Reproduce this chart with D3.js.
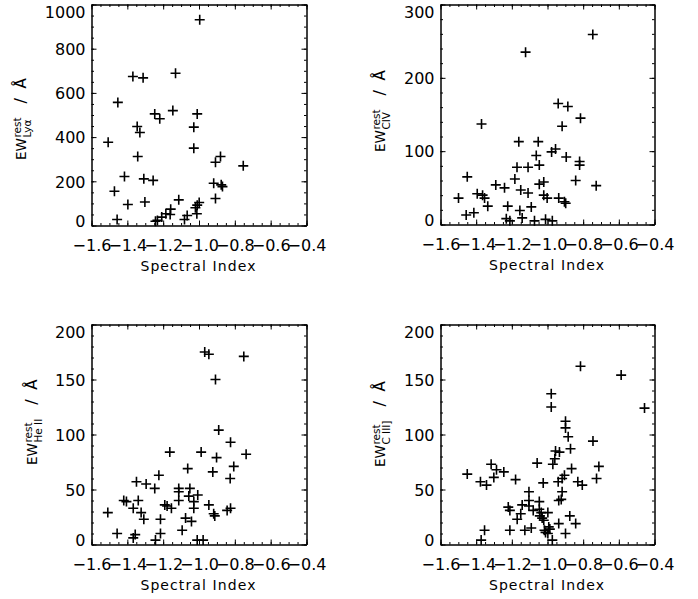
<!DOCTYPE html>
<html>
<head>
<meta charset="utf-8">
<script src="https://cdn.jsdelivr.net/npm/d3@7"></script>
<style>
body { margin: 0; background: #fff; }
text { font-family: "DejaVu Sans", sans-serif; fill: #000; }
</style>
</head>
<body>
<svg id="chart" width="698" height="599"></svg>
<script>
//spectral index vs rest-frame equivalent width, one list per line
var lyaPoints = [
  [-0.996, 931], [-1.369, 674], [-1.312, 668], [-1.131, 689], [-1.453, 557],
  [-1.247, 505], [-1.219, 483], [-1.146, 520], [-1.010, 505], [-1.345, 448],
  [-1.330, 421], [-1.507, 377], [-1.029, 445], [-1.029, 350], [-1.342, 312],
  [-0.880, 312], [-0.908, 286], [-0.753, 270], [-1.416, 222], [-1.308, 211],
  [-1.256, 204], [-1.472, 155], [-0.918, 191], [-0.876, 184], [-0.869, 176],
  [-1.397, 95], [-1.302, 106], [-1.113, 116], [-0.908, 122], [-0.999, 104],
  [-1.010, 92], [-1.020, 80], [-1.012, 53], [-1.158, 74], [-1.161, 50],
  [-1.185, 53], [-1.208, 38], [-1.232, 23], [-1.243, 19], [-1.457, 27],
  [-1.066, 45], [-1.081, 27]
];

var civPoints = [
  [-0.746, 259], [-1.123, 235], [-0.940, 165], [-0.886, 161], [-0.815, 145],
  [-0.918, 134], [-1.370, 137], [-1.161, 113], [-1.052, 113], [-0.977, 99],
  [-0.955, 103], [-1.063, 94], [-0.895, 92], [-1.171, 78], [-1.109, 78],
  [-1.046, 81], [-0.820, 86], [-0.820, 81], [-1.450, 65], [-1.183, 62],
  [-1.046, 55], [-1.021, 58], [-0.842, 60], [-0.727, 53], [-1.290, 54],
  [-1.241, 50], [-1.150, 47], [-1.109, 43], [-1.394, 42], [-1.364, 40],
  [-1.353, 36], [-1.499, 36], [-1.021, 40], [-1.002, 36], [-0.937, 36],
  [-0.905, 31], [-0.898, 29], [-1.335, 25], [-1.223, 25], [-1.091, 24],
  [-1.155, 19], [-1.456, 13], [-1.413, 16], [-1.231, 8], [-1.211, 5],
  [-1.142, 9], [-1.073, 5], [-1.011, 7], [-0.973, 5]
];

var heiiPoints = [
  [-0.968, 175], [-0.945, 173], [-0.750, 171], [-0.908, 150], [-0.890, 104],
  [-1.163, 84], [-0.988, 84], [-0.824, 93], [-0.737, 82], [-0.902, 79],
  [-0.806, 71], [-1.063, 69], [-0.923, 66], [-1.224, 63], [-0.826, 60],
  [-1.349, 57], [-1.295, 55], [-1.247, 51], [-1.113, 51], [-1.051, 51],
  [-1.113, 48], [-1.007, 45], [-1.057, 44], [-1.420, 40], [-1.405, 39],
  [-1.339, 40], [-1.113, 40], [-1.029, 39], [-1.191, 36], [-1.178, 35],
  [-1.154, 33], [-1.367, 33], [-1.029, 33], [-0.945, 36], [-0.824, 33],
  [-0.843, 31], [-1.509, 29], [-1.323, 29], [-0.918, 28], [-0.912, 26],
  [-1.308, 23], [-1.215, 23], [-1.075, 24], [-1.042, 21], [-1.094, 13],
  [-1.457, 10], [-1.356, 9], [-1.367, 6], [-1.215, 10], [-1.243, 4],
  [-1.010, 4], [-0.977, 4]
];

var ciiiPoints = [
  [-0.815, 162], [-0.587, 154], [-0.456, 124], [-0.979, 137], [-0.979, 125],
  [-0.899, 112], [-0.899, 106], [-0.884, 98], [-0.745, 94], [-0.871, 87],
  [-0.933, 84], [-0.955, 85], [-0.959, 78], [-0.970, 73], [-1.058, 74],
  [-0.712, 71], [-0.865, 69], [-1.450, 64], [-1.316, 73], [-1.286, 68],
  [-1.245, 66], [-1.301, 61], [-0.725, 60], [-0.905, 63], [-0.918, 60],
  [-0.940, 57], [-1.376, 57], [-1.342, 54], [-1.179, 59], [-1.024, 56],
  [-0.830, 57], [-0.805, 54], [-0.918, 48], [-0.923, 41], [-0.937, 40],
  [-1.104, 48], [-1.104, 40], [-1.046, 39], [-1.142, 36], [-1.220, 34],
  [-1.211, 31], [-1.104, 35], [-1.080, 31], [-1.046, 32], [-1.035, 29],
  [-0.998, 29], [-1.150, 28], [-1.043, 26], [-1.170, 23], [-1.030, 24],
  [-1.021, 22], [-0.875, 26], [-0.842, 19], [-0.937, 19], [-0.993, 16],
  [-0.987, 14], [-1.091, 15], [-1.017, 13], [-1.011, 11], [-0.998, 10],
  [-1.127, 13], [-1.211, 13], [-1.353, 13], [-0.899, 10], [-1.372, 4],
  [-0.973, 4]
];

//tick values
var xTicks = [-1.6, -1.4, -1.2, -1.0, -0.8, -0.6, -0.4];
var lyaTicks = [0, 200, 400, 600, 800, 1000];
var civTicks = [0, 100, 200, 300];
var heiiTicks = [0, 50, 100, 150, 200];
var ciiiTicks = [0, 50, 100, 150, 200];

//line names for the y titles
var lineNames = ['Ly\u03b1', 'CIV', 'He II', 'C III]'];

var svg = d3.select('#chart');

var panels = [
  {pts: lyaPoints, ticks: lyaTicks, minor: 50, name: lineNames[0],
   left: 91, top: 4, w: 215, h: 221, titleX: 26, eStart: 160},
  {pts: civPoints, ticks: civTicks, minor: 20, name: lineNames[1],
   left: 440, top: 4, w: 214, h: 220, titleX: 385, eStart: 152},
  {pts: heiiPoints, ticks: heiiTicks, minor: 10, name: lineNames[2],
   left: 91, top: 324, w: 215, h: 220, titleX: 37, eStart: 465},
  {pts: ciiiPoints, ticks: ciiiTicks, minor: 10, name: lineNames[3],
   left: 440, top: 324, w: 214, h: 220, titleX: 385, eStart: 467}
];

var xMinor = d3.range(0, 25).map(function(i) { return -1.6 + i * 0.05; });
var fmtX = d3.format('.1f');
var fmtY = d3.format('d');

panels.forEach(function(p) {
  var yMax = p.ticks[p.ticks.length - 1];
  var x = d3.scaleLinear().domain([-1.6, -0.4]).range([0, p.w]);
  var y = d3.scaleLinear().domain([0, yMax]).range([p.h, 0]);
  var yMinor = d3.range(0, yMax / p.minor + 1).map(function(i) { return i * p.minor; });

  var g = svg.append('g')
      .attr('transform', 'translate(' + (p.left + 0.5) + ',' + (p.top + 0.5) + ')');

  //minor ticks on all four sides
  g.append('g').attr('transform', 'translate(0,' + p.h + ')')
    .call(d3.axisBottom(x).tickValues(xMinor).tickSize(-2.5).tickSizeOuter(0).tickFormat(''));
  g.append('g')
    .call(d3.axisTop(x).tickValues(xMinor).tickSize(-2.5).tickSizeOuter(0).tickFormat(''));
  g.append('g')
    .call(d3.axisLeft(y).tickValues(yMinor).tickSize(-2.5).tickSizeOuter(0).tickFormat(''));
  g.append('g').attr('transform', 'translate(' + p.w + ',0)')
    .call(d3.axisRight(y).tickValues(yMinor).tickSize(-2.5).tickSizeOuter(0).tickFormat(''));

  //major ticks
  var xb = g.append('g').attr('transform', 'translate(0,' + p.h + ')')
    .call(d3.axisBottom(x).tickValues(xTicks).tickSize(-5).tickSizeOuter(0).tickFormat(fmtX));
  xb.selectAll('text').attr('y', 25).attr('dy', null).attr('font-size', 16);
  g.append('g')
    .call(d3.axisTop(x).tickValues(xTicks).tickSize(-5).tickSizeOuter(0).tickFormat(''));
  var yl = g.append('g')
    .call(d3.axisLeft(y).tickValues(p.ticks).tickSize(-5).tickSizeOuter(0).tickFormat(fmtY));
  yl.selectAll('text')
    .attr('x', -6)
    .attr('font-size', 16)
    .attr('dy', function(d) {
      if (d === yMax) return '0.8em';
      if (d === 0) return '0.05em';
      return '0.36em';
    });
  g.append('g').attr('transform', 'translate(' + p.w + ',0)')
    .call(d3.axisRight(y).tickValues(p.ticks).tickSize(-5).tickSizeOuter(0).tickFormat(''));

  g.selectAll('.domain, .tick line').attr('stroke', '#000').attr('stroke-width', 1);
  g.selectAll('.tick text').attr('fill', '#000').attr('font-family', '"DejaVu Sans", sans-serif');

  //crosses
  g.append('g').selectAll('path')
    .data(p.pts)
    .enter().append('path')
    .attr('d', function(d) {
      var cx = x(d[0]), cy = y(d[1]);
      return 'M' + (cx - 5) + ',' + cy + 'h10M' + cx + ',' + (cy - 5) + 'v10';
    })
    .attr('stroke', '#000')
    .attr('stroke-width', 1.6)
    .attr('fill', 'none');

  //x title
  svg.append('text')
    .attr('x', p.left + p.w / 2)
    .attr('y', p.top + p.h + 46)
    .attr('text-anchor', 'middle')
    .attr('font-size', 14)
    .attr('letter-spacing', 1.1)
    .text('Spectral Index');

  //y title, rotated
  var t = svg.append('g')
    .attr('transform', 'translate(' + p.titleX + ',' + p.eStart + ') rotate(-90)');
  var ew = t.append('text').attr('font-size', 13.5).text('EW');
  var w0 = ew.node().getComputedTextLength() + 0.5;
  var sup = t.append('text').attr('x', w0).attr('y', -5).attr('font-size', 10.5).text('rest');
  var sub = t.append('text').attr('x', w0).attr('y', 5).attr('font-size', 10.5).text(p.name);
  var w1 = Math.max(sup.node().getComputedTextLength(), sub.node().getComputedTextLength());
  var xs = w0 + w1 + 14;
  t.append('text').attr('x', xs).attr('font-size', 16).text('/');
  t.append('text').attr('x', xs + 15).attr('font-size', 15).text('\u00c5');
});
</script>
</body>
</html>
